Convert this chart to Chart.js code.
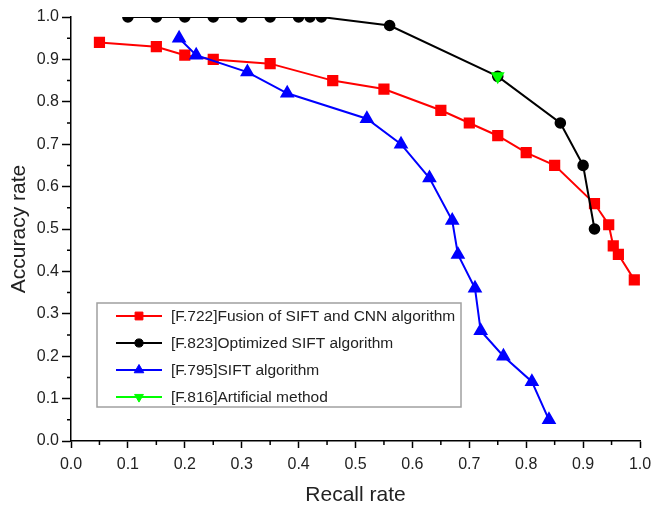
<!DOCTYPE html>
<html>

<head>
    <meta charset="utf-8">
    <title>Recall / accuracy</title>
    <script src="https://cdn.jsdelivr.net/npm/chart.js@4.4.1/dist/chart.umd.min.js"></script>
    <style>
        body { margin: 0; background: #fff; }
    </style>
</head>

<body>
    <canvas id="myChart" width="655" height="508"></canvas>
    <script>
        // recall (x) and accuracy (y) for each method
        const fusionRecall = [0.05, 0.15, 0.2, 0.25, 0.35, 0.46, 0.55, 0.65, 0.70, 0.75, 0.80, 0.85, 0.92, 0.945, 0.953, 0.962, 0.99];
        const fusionAcc = [0.94, 0.93, 0.91, 0.90, 0.89, 0.85, 0.83, 0.78, 0.75, 0.72, 0.68, 0.65, 0.56, 0.51, 0.46, 0.44, 0.38];

        const optRecall = [0.1, 0.15, 0.2, 0.25, 0.3, 0.35, 0.4, 0.42, 0.44, 0.56, 0.75, 0.86, 0.90, 0.92];
        const optAcc = [1.0, 1.0, 1.0, 1.0, 1.0, 1.0, 1.0, 1.0, 1.0, 0.98, 0.86, 0.75, 0.65, 0.50];

        const siftRecall = [0.19, 0.22, 0.31, 0.38, 0.52, 0.58, 0.63, 0.67, 0.68, 0.71, 0.72, 0.76, 0.81, 0.84];
        const siftAcc = [0.95, 0.91, 0.87, 0.82, 0.76, 0.70, 0.62, 0.52, 0.44, 0.36, 0.26, 0.20, 0.14, 0.05];

        const manualRecall = [0.75];
        const manualAcc = [0.86];

        const seriesNames = [
            '[F.722]Fusion of SIFT and CNN algorithm',
            '[F.823]Optimized SIFT algorithm',
            '[F.795]SIFT algorithm',
            '[F.816]Artificial method'
        ];

        const xTicks = [0, 0.1, 0.2, 0.3, 0.4, 0.5, 0.6, 0.7, 0.8, 0.9, 1.0];
        const yTicks = [0, 0.1, 0.2, 0.3, 0.4, 0.5, 0.6, 0.7, 0.8, 0.9, 1.0];

        const FONT = '"Liberation Sans", Arial, sans-serif';

        function pts(xs, ys) {
            return xs.map((x, i) => ({x: x, y: ys[i]}));
        }

        // short ticks halfway between the labelled ones
        const minorTicks = {
            id: 'minorTicks',
            afterDraw(chart) {
                const ctx = chart.ctx;
                const xs = chart.scales.x, ys = chart.scales.y;
                ctx.save();
                ctx.strokeStyle = '#000';
                ctx.lineWidth = 1.5;
                ctx.beginPath();
                for (let i = 0; i < xTicks.length - 1; i++) {
                    const px = xs.getPixelForValue((xTicks[i] + xTicks[i + 1]) / 2);
                    ctx.moveTo(px, xs.top);
                    ctx.lineTo(px, xs.top + 4);
                }
                for (let i = 0; i < yTicks.length - 1; i++) {
                    const py = ys.getPixelForValue((yTicks[i] + yTicks[i + 1]) / 2);
                    ctx.moveTo(ys.right, py);
                    ctx.lineTo(ys.right - 4, py);
                }
                ctx.stroke();
                ctx.restore();
            }
        };

        // boxed legend sitting inside the plot
        const boxLegend = {
            id: 'boxLegend',
            afterDraw(chart) {
                const ctx = chart.ctx;
                const area = chart.chartArea;
                const left = area.left + 26, top = area.top + 286;
                const w = 364, h = 104, rowH = 27;
                ctx.save();
                ctx.fillStyle = '#fff';
                ctx.fillRect(left, top, w, h);
                ctx.strokeStyle = '#a0a0a0';
                ctx.lineWidth = 1.5;
                ctx.strokeRect(left, top, w, h);
                ctx.font = '15.5px ' + FONT;
                ctx.textBaseline = 'middle';
                chart.data.datasets.forEach((ds, i) => {
                    const cy = top + 13 + i * rowH;
                    ctx.strokeStyle = ds.borderColor;
                    ctx.lineWidth = 2;
                    ctx.beginPath();
                    ctx.moveTo(left + 19, cy);
                    ctx.lineTo(left + 65, cy);
                    ctx.stroke();
                    ctx.fillStyle = ds.pointBackgroundColor;
                    ctx.strokeStyle = ds.pointBorderColor;
                    ctx.lineWidth = 1;
                    Chart.helpers.drawPoint(ctx, {
                        pointStyle: ds.pointStyle,
                        rotation: ds.pointRotation || 0,
                        radius: ds.pointRadius * 0.85,
                        borderWidth: 1
                    }, left + 42, cy);
                    ctx.fillStyle = '#222';
                    ctx.fillText(ds.label, left + 74, cy + 1);
                });
                ctx.restore();
            }
        };

        const ctx = document.getElementById('myChart').getContext('2d');
        const myChart = new Chart(ctx, {
            type: 'scatter',
            data: {
                datasets: [{
                    label: seriesNames[0],
                    data: pts(fusionRecall, fusionAcc),
                    showLine: true,
                    borderColor: '#ff0000',
                    borderWidth: 2,
                    pointStyle: 'rect',
                    pointRadius: 6.5,
                    pointBackgroundColor: '#ff0000',
                    pointBorderColor: '#ff0000',
                    clip: 0,
                    order: 4
                }, {
                    label: seriesNames[1],
                    data: pts(optRecall, optAcc),
                    showLine: true,
                    borderColor: '#000000',
                    borderWidth: 2,
                    pointStyle: 'circle',
                    pointRadius: 4.8,
                    pointBackgroundColor: '#000000',
                    pointBorderColor: '#000000',
                    clip: 0,
                    order: 3
                }, {
                    label: seriesNames[2],
                    data: pts(siftRecall, siftAcc),
                    showLine: true,
                    borderColor: '#0000ff',
                    borderWidth: 2,
                    pointStyle: 'triangle',
                    pointRadius: 6.5,
                    pointBackgroundColor: '#0000ff',
                    pointBorderColor: '#0000ff',
                    clip: 0,
                    order: 2
                }, {
                    label: seriesNames[3],
                    data: pts(manualRecall, manualAcc),
                    showLine: true,
                    borderColor: '#00ff00',
                    borderWidth: 2,
                    pointStyle: 'triangle',
                    pointRotation: 180,
                    pointRadius: 6,
                    pointBackgroundColor: '#00ff00',
                    pointBorderColor: '#00ff00',
                    clip: 0,
                    order: 1
                }]
            },
            options: {
                responsive: false,
                animation: false,
                layout: {padding: {top: 17, right: 15, left: 0, bottom: 0}},
                plugins: {
                    legend: {display: false},
                    tooltip: {enabled: false}
                },
                scales: {
                    x: {
                        type: 'linear',
                        min: 0,
                        max: 1,
                        afterBuildTicks: s => { s.ticks = xTicks.map(v => ({value: v})); },
                        afterFit: s => {
                            s.height = 67;
                            s.paddingLeft = 0;
                            s.paddingRight = 0;
                        },
                        border: {color: '#000', width: 1.5},
                        grid: {drawOnChartArea: false, tickLength: 7, tickColor: '#000', tickWidth: 1.5},
                        ticks: {
                            padding: 7,
                            color: '#222',
                            font: {family: FONT, size: 16},
                            callback: v => v.toFixed(1)
                        },
                        title: {
                            display: true,
                            text: 'Recall rate',
                            color: '#222',
                            font: {family: FONT, size: 21},
                            padding: {top: 8, bottom: 0}
                        }
                    },
                    y: {
                        type: 'linear',
                        min: 0,
                        max: 1,
                        afterBuildTicks: s => { s.ticks = yTicks.map(v => ({value: v})); },
                        afterFit: s => {
                            s.width = 71;
                            s.paddingTop = 0;
                            s.paddingBottom = 0;
                        },
                        border: {color: '#000', width: 1.5},
                        grid: {drawOnChartArea: false, tickLength: 9, tickColor: '#000', tickWidth: 1.5},
                        ticks: {
                            padding: 3,
                            color: '#222',
                            font: {family: FONT, size: 16},
                            callback: v => v.toFixed(1)
                        },
                        title: {
                            display: true,
                            text: 'Accuracy rate',
                            color: '#222',
                            font: {family: FONT, size: 21},
                            padding: {top: 7, bottom: 0}
                        }
                    }
                }
            },
            plugins: [minorTicks, boxLegend]
        });
    </script>
</body>

</html>
